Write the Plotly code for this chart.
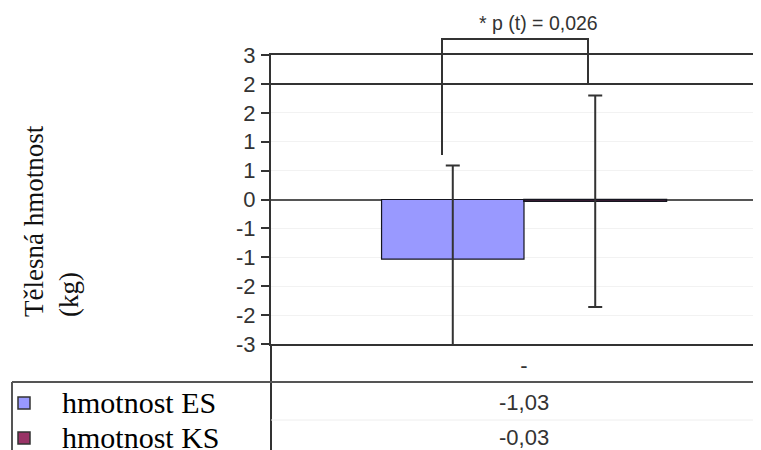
import plotly.graph_objects as go

# ---- data ----
categories = ["-"]
series_names = ["hmotnost ES", "hmotnost KS"]
es_values = [-1.03]
ks_values = [-0.03]
es_err = [1.62]
ks_err = [1.83]
tick_vals = [-2.5, -2, -1.5, -1, -0.5, 0, 0.5, 1, 1.5, 2, 2.5]
tick_text = ["-3", "-2", "-2", "-1", "-1", "0", "1", "1", "2", "2", "3"]
p_label = "* p (t) = 0,026"
y_title = "Tělesná hmotnost<br>(kg)"
colors = ["#9999FF", "#993366"]

OFF = 8  # page body margin of the html page
W, H = 761 - OFF, 450 - OFF
L, T = 271 - OFF, 55 - OFF
PLOT_BOTTOM = 344 - OFF
B = H - PLOT_BOTTOM
PW, PH = W - L, PLOT_BOTTOM - T


def px(x):
    # reference-pixel x -> paper
    return (x - OFF - L) / PW


def py(y):
    # reference-pixel y -> paper
    return (PLOT_BOTTOM - (y - OFF)) / PH


SANS = "Liberation Sans, Arial, sans-serif"
SERIF = "Liberation Serif, Times New Roman, serif"

fig = go.Figure()
for name, vals, err, col, lw in [
    (series_names[0], es_values, es_err, colors[0], 1.2),
    (series_names[1], ks_values, ks_err, colors[1], 1.6),
]:
    fig.add_trace(go.Bar(
        name=name, x=categories, y=vals,
        marker=dict(color=col, line=dict(color="#15151f", width=lw)),
        error_y=dict(type="data", array=err, visible=True,
                     color="#333333", thickness=2, width=7),
    ))

fig.update_layout(
    width=W, height=H,
    margin=dict(l=L, r=0, t=T, b=B, pad=0, autoexpand=False),
    paper_bgcolor="white", plot_bgcolor="white",
    barmode="group", bargap=0.437,
    showlegend=False,
    xaxis=dict(type="category", range=[-0.5, -0.5 + PW / 506],
               showline=True, mirror=True, linecolor="#333333", linewidth=2,
               ticks="", showgrid=False,
               tickfont=dict(family=SANS, size=22, color="#333333"),
               ticklabelstandoff=1),
    yaxis=dict(range=[-2.5, 2.5], tickvals=tick_vals, ticktext=tick_text,
               ticks="outside", ticklen=8, tickwidth=2, tickcolor="#333333",
               showline=True, linecolor="#333333", linewidth=2,
               showgrid=True, gridcolor="#f2f2f2", gridwidth=1,
               zeroline=True, zerolinecolor="#555555", zerolinewidth=2,
               tickfont=dict(family=SANS, size=22, color="#333333"),
               ticklabelstandoff=1),
)

# horizontal line at 2
fig.add_shape(type="line", xref="paper", yref="y", x0=0, x1=1, y0=2, y1=2,
              line=dict(color="#333333", width=2))

# data table lines
fig.add_shape(type="line", xref="paper", yref="paper", x0=0, x1=0,
              y0=0, y1=py(470), line=dict(color="#333333", width=2))
fig.add_shape(type="line", xref="paper", yref="paper", x0=px(12), x1=1,
              y0=py(382), y1=py(382), line=dict(color="#555555", width=2))
fig.add_shape(type="line", xref="paper", yref="paper", x0=px(12), x1=px(12),
              y0=py(382), y1=py(470), line=dict(color="#555555", width=2))
fig.add_shape(type="line", xref="paper", yref="paper", x0=0, x1=1,
              y0=py(420), y1=py(420), line=dict(color="#eeeeee", width=1))

# table rows: legend key, series name, value
for name, vals, col, yy in [
    (series_names[0], es_values, colors[0], 403),
    (series_names[1], ks_values, colors[1], 438),
]:
    fig.add_shape(type="rect", xref="paper", yref="paper",
                  x0=px(18), x1=px(30), y0=py(yy - 6), y1=py(yy + 6),
                  fillcolor=col, line=dict(color="#333333", width=1.5))
    fig.add_annotation(xref="paper", yref="paper", x=px(60), y=py(yy - 1),
                       text=name, showarrow=False, xanchor="left",
                       yanchor="middle",
                       font=dict(family=SERIF, size=30, color="#000000"))
    fig.add_annotation(xref="x", yref="paper", x=0, y=py(yy - 1),
                       text=f"{vals[0]:.2f}".replace(".", ","),
                       showarrow=False, xanchor="center", yanchor="middle",
                       font=dict(family=SANS, size=22, color="#333333"))

# significance bracket
fig.add_shape(type="path", xref="paper", yref="paper",
              path=f"M{px(442)},{py(155)} L{px(442)},{py(39)} L{px(588)},{py(39)} L{px(588)},{py(84)}",
              line=dict(color="#333333", width=2))
fig.add_annotation(xref="paper", yref="paper", x=px(538), y=py(23),
                   text=p_label, showarrow=False, xanchor="center",
                   yanchor="middle",
                   font=dict(family=SANS, size=19.5, color="#333333"))

# y axis title
fig.add_annotation(xref="paper", yref="paper", x=px(52), y=py(221),
                   text=y_title, showarrow=False, textangle=-90,
                   align="left", xanchor="center", yanchor="middle",
                   font=dict(family=SERIF, size=27, color="#111111"))

fig.write_html("out.html")
